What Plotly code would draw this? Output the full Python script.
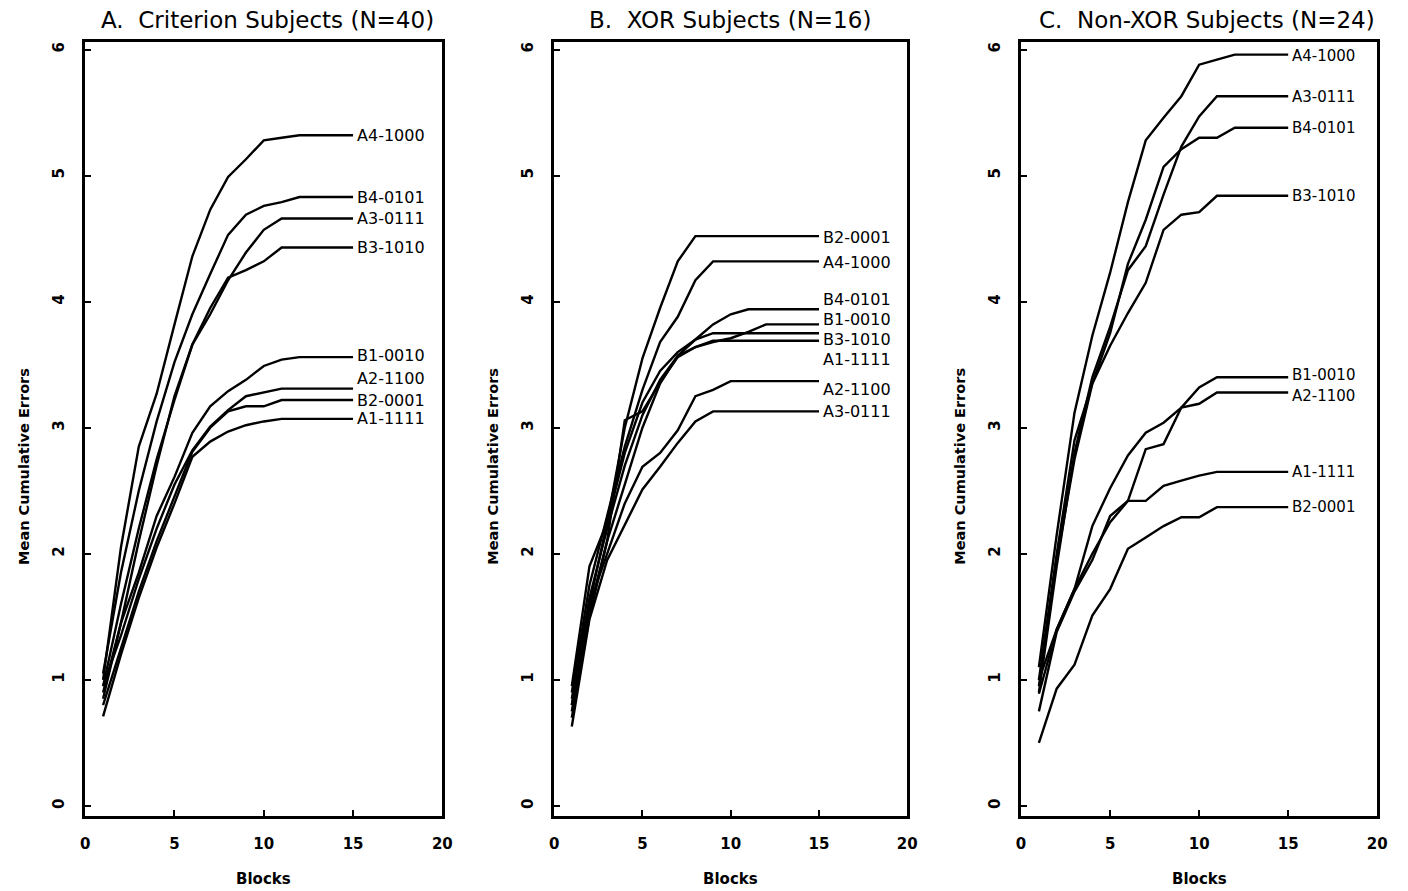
import plotly.graph_objects as go

blocks = list(range(1, 16))

# Panel A: Criterion Subjects (N=40)
a_names = ["A4-1000", "B4-0101", "A3-0111", "B3-1010", "B1-0010", "A2-1100", "B2-0001", "A1-1111"]
a_A4 = [1.00, 2.05, 2.85, 3.27, 3.82, 4.36, 4.73, 4.99, 5.13, 5.28, 5.30, 5.32, 5.32, 5.32, 5.32]
a_B4 = [1.05, 1.85, 2.50, 3.05, 3.52, 3.90, 4.22, 4.53, 4.69, 4.76, 4.79, 4.83, 4.83, 4.83, 4.83]
a_A3 = [0.85, 1.45, 2.10, 2.70, 3.25, 3.66, 3.90, 4.17, 4.39, 4.57, 4.66, 4.66, 4.66, 4.66, 4.66]
a_B3 = [0.95, 1.60, 2.20, 2.75, 3.22, 3.66, 3.95, 4.19, 4.25, 4.32, 4.43, 4.43, 4.43, 4.43, 4.43]
a_B1 = [0.90, 1.45, 1.85, 2.30, 2.61, 2.96, 3.17, 3.29, 3.38, 3.49, 3.54, 3.56, 3.56, 3.56, 3.56]
a_A2 = [0.95, 1.35, 1.80, 2.20, 2.55, 2.82, 3.01, 3.14, 3.25, 3.28, 3.31, 3.31, 3.31, 3.31, 3.31]
a_B2 = [0.80, 1.25, 1.70, 2.10, 2.45, 2.81, 3.00, 3.13, 3.17, 3.17, 3.22, 3.22, 3.22, 3.22, 3.22]
a_A1 = [0.71, 1.20, 1.65, 2.05, 2.40, 2.77, 2.89, 2.97, 3.02, 3.05, 3.07, 3.07, 3.07, 3.07, 3.07]
a_label_y = [5.32, 4.83, 4.66, 4.43, 3.57, 3.39, 3.22, 3.07]

# Panel B: XOR Subjects (N=16)
b_names = ["B2-0001", "A4-1000", "B4-0101", "B1-0010", "B3-1010", "A1-1111", "A2-1100", "A3-0111"]
b_B2 = [0.95, 1.90, 2.25, 3.00, 3.55, 3.95, 4.32, 4.52, 4.52, 4.52, 4.52, 4.52, 4.52, 4.52, 4.52]
b_A4 = [0.90, 1.75, 2.30, 2.85, 3.30, 3.68, 3.88, 4.17, 4.32, 4.32, 4.32, 4.32, 4.32, 4.32, 4.32]
b_B4 = [0.85, 1.65, 2.20, 2.70, 3.10, 3.38, 3.57, 3.70, 3.82, 3.90, 3.94, 3.94, 3.94, 3.94, 3.94]
b_B1 = [0.80, 1.55, 2.10, 2.55, 3.00, 3.35, 3.57, 3.64, 3.68, 3.71, 3.76, 3.82, 3.82, 3.82, 3.82]
b_B3 = [0.75, 1.60, 2.25, 2.80, 3.20, 3.45, 3.60, 3.70, 3.75, 3.75, 3.75, 3.75, 3.75, 3.75, 3.75]
b_A1 = [0.70, 1.50, 2.10, 3.06, 3.13, 3.36, 3.56, 3.64, 3.69, 3.69, 3.69, 3.69, 3.69, 3.69, 3.69]
b_A2 = [0.80, 1.60, 2.00, 2.40, 2.69, 2.80, 2.98, 3.25, 3.30, 3.37, 3.37, 3.37, 3.37, 3.37, 3.37]
b_A3 = [0.63, 1.48, 1.95, 2.23, 2.51, 2.69, 2.88, 3.05, 3.13, 3.13, 3.13, 3.13, 3.13, 3.13, 3.13]
b_label_y = [4.51, 4.31, 4.02, 3.86, 3.70, 3.54, 3.30, 3.13]

# Panel C: Non-XOR Subjects (N=24)
c_names = ["A4-1000", "A3-0111", "B4-0101", "B3-1010", "B1-0010", "A2-1100", "A1-1111", "B2-0001"]
c_A4 = [1.10, 2.15, 3.12, 3.73, 4.23, 4.79, 5.28, 5.46, 5.63, 5.88, 5.92, 5.96, 5.96, 5.96, 5.96]
c_A3 = [0.90, 1.90, 2.80, 3.40, 3.80, 4.25, 4.44, 4.85, 5.23, 5.47, 5.63, 5.63, 5.63, 5.63, 5.63]
c_B4 = [1.00, 2.00, 2.90, 3.35, 3.75, 4.30, 4.65, 5.07, 5.21, 5.30, 5.30, 5.38, 5.38, 5.38, 5.38]
c_B3 = [0.95, 1.95, 2.75, 3.35, 3.65, 3.91, 4.15, 4.57, 4.69, 4.71, 4.84, 4.84, 4.84, 4.84, 4.84]
c_B1 = [1.00, 1.40, 1.72, 2.22, 2.52, 2.78, 2.96, 3.04, 3.16, 3.32, 3.40, 3.40, 3.40, 3.40, 3.40]
c_A2 = [0.89, 1.40, 1.72, 2.00, 2.25, 2.42, 2.83, 2.87, 3.16, 3.19, 3.28, 3.28, 3.28, 3.28, 3.28]
c_A1 = [0.75, 1.38, 1.70, 1.95, 2.30, 2.42, 2.42, 2.54, 2.58, 2.62, 2.65, 2.65, 2.65, 2.65, 2.65]
c_B2 = [0.50, 0.93, 1.12, 1.51, 1.72, 2.04, 2.13, 2.22, 2.29, 2.29, 2.37, 2.37, 2.37, 2.37, 2.37]
c_label_y = [5.95, 5.62, 5.38, 4.84, 3.42, 3.25, 2.65, 2.37]

titles = ["A.  Criterion Subjects (N=40)", "B.  XOR Subjects (N=16)", "C.  Non-XOR Subjects (N=24)"]
x_ticks = [0, 5, 10, 15, 20]
y_ticks = [0, 1, 2, 3, 4, 5, 6]

panels = [
    (a_names, [a_A4, a_B4, a_A3, a_B3, a_B1, a_A2, a_B2, a_A1], a_label_y),
    (b_names, [b_B2, b_A4, b_B4, b_B1, b_B3, b_A1, b_A2, b_A3], b_label_y),
    (c_names, [c_A4, c_A3, c_B4, c_B3, c_B1, c_A2, c_A1, c_B2], c_label_y),
]

OFF = 8  # page body margin
W, H = 1408 - OFF, 891 - OFF
x_px = [(81, 442), (555, 912), (1027, 1387)]
title_cx = [265, 733, 1215]
label_size = [16, 16, 15]
y_top_px, y_bot_px = 42, 816
FONT = "DejaVu Sans, Liberation Sans, Arial, sans-serif"


def px_x(p):
    return (p - OFF) / W


def px_y(p):
    return 1 - (p - OFF) / H


fig = go.Figure()
layout = dict(
    width=W, height=H, margin=dict(l=0, r=0, t=0, b=0),
    paper_bgcolor="white", plot_bgcolor="white", showlegend=False,
    font=dict(family=FONT, color="black"),
)
annotations = []
for i, (names, series, label_y) in enumerate(panels):
    xa = "x" if i == 0 else f"x{i+1}"
    ya = "y" if i == 0 else f"y{i+1}"
    for name, vals in zip(names, series):
        fig.add_trace(go.Scatter(x=blocks, y=vals, mode="lines", name=name,
                                 line=dict(color="black", width=2.4),
                                 xaxis=xa, yaxis=ya, hoverinfo="name+y"))
    for name, ly in zip(names, label_y):
        annotations.append(dict(x=blocks[-1], y=ly, xref=xa, yref=ya, text=name,
                                showarrow=False, xanchor="left", yanchor="middle",
                                xshift=2, font=dict(size=label_size[i], family=FONT, color="black")))
    x0, x1 = x_px[i]
    dom_x = [px_x(x0), px_x(x1)]
    dom_y = [px_y(y_bot_px), px_y(y_top_px)]
    axis_common = dict(showline=True, linecolor="black", linewidth=2.5, mirror=True,
                       ticks="inside", tickcolor="black", tickwidth=2, ticklen=6,
                       showgrid=False, zeroline=False,
                       tickfont=dict(size=15, family=FONT, color="black", weight="bold"))
    layout["xaxis" if i == 0 else f"xaxis{i+1}"] = dict(
        domain=dom_x, range=[0, 20], tickvals=x_ticks, anchor=ya,
        ticklabelstandoff=12, **axis_common)
    layout["yaxis" if i == 0 else f"yaxis{i+1}"] = dict(
        domain=dom_y, range=[-0.08, 6.06], tickvals=y_ticks, anchor=xa,
        tickangle=-90, ticklabelstandoff=12, **axis_common)
    # panel title
    annotations.append(dict(x=px_x(title_cx[i]), y=px_y(20), xref="paper", yref="paper",
                            text=titles[i], showarrow=False, xanchor="center", yanchor="middle",
                            font=dict(size=23, family=FONT, color="black")))
    # x axis title
    annotations.append(dict(x=px_x((x0 + x1) / 2), y=px_y(879), xref="paper", yref="paper",
                            text="<b>Blocks</b>", showarrow=False, xanchor="center", yanchor="middle",
                            font=dict(size=15, family=FONT, color="black")))
    # y axis title
    annotations.append(dict(x=px_x(x0 - 62), y=px_y(466), xref="paper", yref="paper",
                            text="<b>Mean Cumulative Errors</b>", showarrow=False, textangle=-90,
                            xanchor="center", yanchor="middle",
                            font=dict(size=14.5, family=FONT, color="black")))

layout["annotations"] = annotations
fig.update_layout(**layout)
fig.write_html("out.html")
